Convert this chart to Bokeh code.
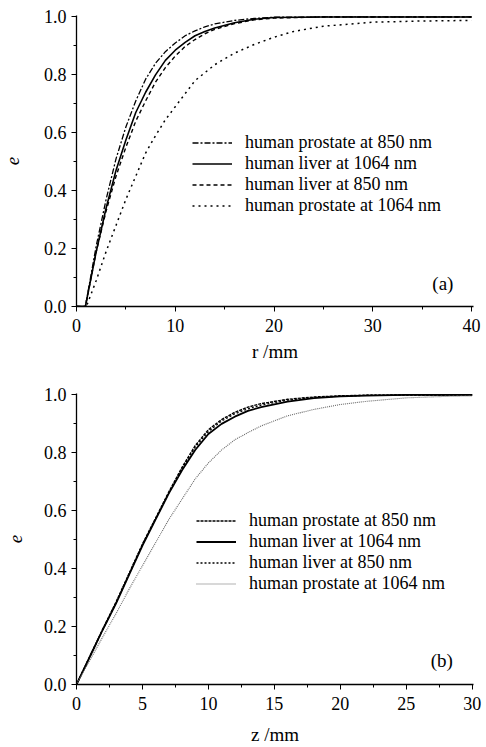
from bokeh.plotting import figure
from bokeh.models import (Legend, LegendItem, Label, SingleIntervalTicker,
                          PrintfTickFormatter, Range1d)
from bokeh.layouts import column
from bokeh.embed import file_html
from bokeh.resources import INLINE

# ---------------- data: panel (a) ----------------
r_mm = [0, 0.9, 2, 3, 4, 5, 6, 7, 8, 9, 10, 11, 12, 13, 14, 16, 18, 20, 25, 30, 35, 40]
a_prostate_850 = [0, 0, 0.21, 0.37, 0.51, 0.62, 0.71, 0.785, 0.84, 0.88, 0.91, 0.935, 0.952, 0.966, 0.976, 0.988, 0.995, 0.999, 1.0, 1.0, 1.0, 1.0]
a_liver_1064 = [0, 0, 0.19, 0.34, 0.47, 0.575, 0.67, 0.74, 0.80, 0.85, 0.885, 0.912, 0.935, 0.95, 0.962, 0.98, 0.992, 0.998, 1.0, 1.0, 1.0, 1.0]
a_liver_850 = [0, 0, 0.19, 0.33, 0.45, 0.55, 0.64, 0.71, 0.775, 0.825, 0.865, 0.898, 0.922, 0.942, 0.957, 0.977, 0.99, 0.996, 1.0, 1.0, 1.0, 1.0]
r_mm_p1064 = [0, 1.0, 2, 3, 4, 5, 6, 7, 8, 9, 10, 12, 14, 16, 18, 20, 22, 25, 30, 35, 40]
a_prostate_1064 = [0, 0, 0.09, 0.19, 0.28, 0.37, 0.45, 0.53, 0.59, 0.645, 0.69, 0.78, 0.835, 0.875, 0.905, 0.93, 0.95, 0.968, 0.982, 0.986, 0.988]

# ---------------- data: panel (b) ----------------
z_mm = [0, 1, 2, 3, 4, 5, 6, 7, 8, 9, 10, 11, 12, 13, 14, 16, 18, 20, 22, 25, 28, 30]
b_prostate_850 = [0, 0.096, 0.192, 0.285, 0.385, 0.485, 0.575, 0.665, 0.75, 0.825, 0.88, 0.915, 0.94, 0.958, 0.97, 0.985, 0.993, 0.997, 0.999, 1.0, 1.0, 1.0]
b_liver_1064 = [0, 0.095, 0.19, 0.28, 0.38, 0.48, 0.57, 0.66, 0.74, 0.81, 0.865, 0.90, 0.925, 0.945, 0.958, 0.977, 0.989, 0.995, 0.998, 1.0, 1.0, 1.0]
b_liver_850 = [0, 0.095, 0.19, 0.282, 0.382, 0.482, 0.572, 0.662, 0.745, 0.82, 0.873, 0.91, 0.935, 0.952, 0.965, 0.982, 0.991, 0.996, 0.999, 1.0, 1.0, 1.0]
b_prostate_1064 = [0, 0.083, 0.165, 0.245, 0.33, 0.41, 0.49, 0.57, 0.64, 0.71, 0.765, 0.81, 0.845, 0.87, 0.893, 0.928, 0.95, 0.967, 0.978, 0.99, 0.995, 0.997]

legend_labels = ["human prostate at 850 nm", "human liver at 1064 nm",
                 "human liver at 850 nm", "human prostate at 1064 nm"]

SERIF = "Liberation Serif"


def style_axes(p, xint, xlabel, xstandoff, ystandoff):
    p.xaxis.ticker = SingleIntervalTicker(interval=xint, num_minor_ticks=2)
    p.yaxis.ticker = SingleIntervalTicker(interval=0.2, num_minor_ticks=2)
    p.yaxis.formatter = PrintfTickFormatter(format="%.1f")
    for ax in (p.xaxis[0], p.yaxis[0]):
        ax.axis_line_color = "black"
        ax.axis_line_width = 1.3
        ax.major_tick_in = 0
        ax.major_tick_out = 5
        ax.minor_tick_in = 0
        ax.minor_tick_out = 3
        ax.major_tick_line_color = "black"
        ax.minor_tick_line_color = "black"
        ax.major_label_text_font = SERIF
        ax.major_label_text_font_size = "18px"
        ax.major_label_text_color = "black"
        ax.axis_label_text_font = SERIF
        ax.axis_label_text_font_size = "19px"
        ax.axis_label_text_color = "black"
        ax.axis_label_text_line_height = 1.0
    p.xaxis.major_label_standoff = 7
    p.yaxis.major_label_standoff = 5
    p.xaxis.axis_label = xlabel
    p.xaxis.axis_label_text_font_style = "normal"
    p.xaxis.axis_label_standoff = xstandoff
    p.yaxis.axis_label = "e"
    p.yaxis.axis_label_text_font_style = "italic"
    p.yaxis.axis_label_standoff = ystandoff
    p.xgrid.visible = False
    p.ygrid.visible = False
    p.outline_line_color = None


def make_legend(p, renderers, loc):
    items = [LegendItem(label=lab, renderers=[r]) for lab, r in zip(legend_labels, renderers)]
    leg = Legend(items=items, location=loc, glyph_width=40, glyph_height=19,
                 label_height=19, label_standoff=13, spacing=-2, padding=0, margin=0,
                 border_line_alpha=0, background_fill_alpha=0,
                 label_text_font=SERIF, label_text_font_size="18px",
                 label_text_line_height=1.0, label_text_color="black")
    p.add_layout(leg, "center")


# ---------------- panel (a) ----------------
pa = figure(width=484, height=375, output_backend="svg", toolbar_location=None,
            x_range=Range1d(0, 40.2), y_range=Range1d(0, 1.005),
            min_border_left=76, min_border_right=10, min_border_top=15, min_border_bottom=69)
style_axes(pa, 10, "r /mm", 6, 22)
ra1 = pa.line(r_mm, a_prostate_850, line_color="black", line_width=1.3, line_dash="6 2 2 2")
ra2 = pa.line(r_mm, a_liver_1064, line_color="black", line_width=1.6)
ra3 = pa.line(r_mm, a_liver_850, line_color="black", line_width=1.4, line_dash="4 3")
ra4 = pa.line(r_mm_p1064, a_prostate_1064, line_color="black", line_width=1.5, line_dash="2 4")
make_legend(pa, [ra1, ra2, ra3, ra4], (116, 90))
pa.add_layout(Label(x=37.1, y=0.08, text="(a)", text_align="center", text_baseline="middle",
                    text_font=SERIF, text_font_size="19px", text_color="black"))

# ---------------- panel (b) ----------------
pb = figure(width=484, height=372, output_backend="svg", toolbar_location=None,
            x_range=Range1d(0, 30.1), y_range=Range1d(0, 1.005),
            min_border_left=73, min_border_right=11, min_border_top=18, min_border_bottom=63)
style_axes(pb, 5, "z /mm", 11, 19)
rb1 = pb.line(z_mm, b_prostate_850, line_color="black", line_width=1.4, line_dash="3 1")
rb2 = pb.line(z_mm, b_liver_1064, line_color="black", line_width=1.8)
rb3 = pb.line(z_mm, b_liver_850, line_color="black", line_width=1.3, line_dash="2 2")
rb4 = pb.line(z_mm, b_prostate_1064, line_color="#666666", line_width=1.1, line_dash="1 1")
make_legend(pb, [rb1, rb2, rb3, rb4], (120, 90))
pb.add_layout(Label(x=27.7, y=0.083, text="(b)", text_align="center", text_baseline="middle",
                    text_font=SERIF, text_font_size="19px", text_color="black"))

layout = column(pa, pb)
open("out.html", "w").write(file_html(layout, INLINE))
